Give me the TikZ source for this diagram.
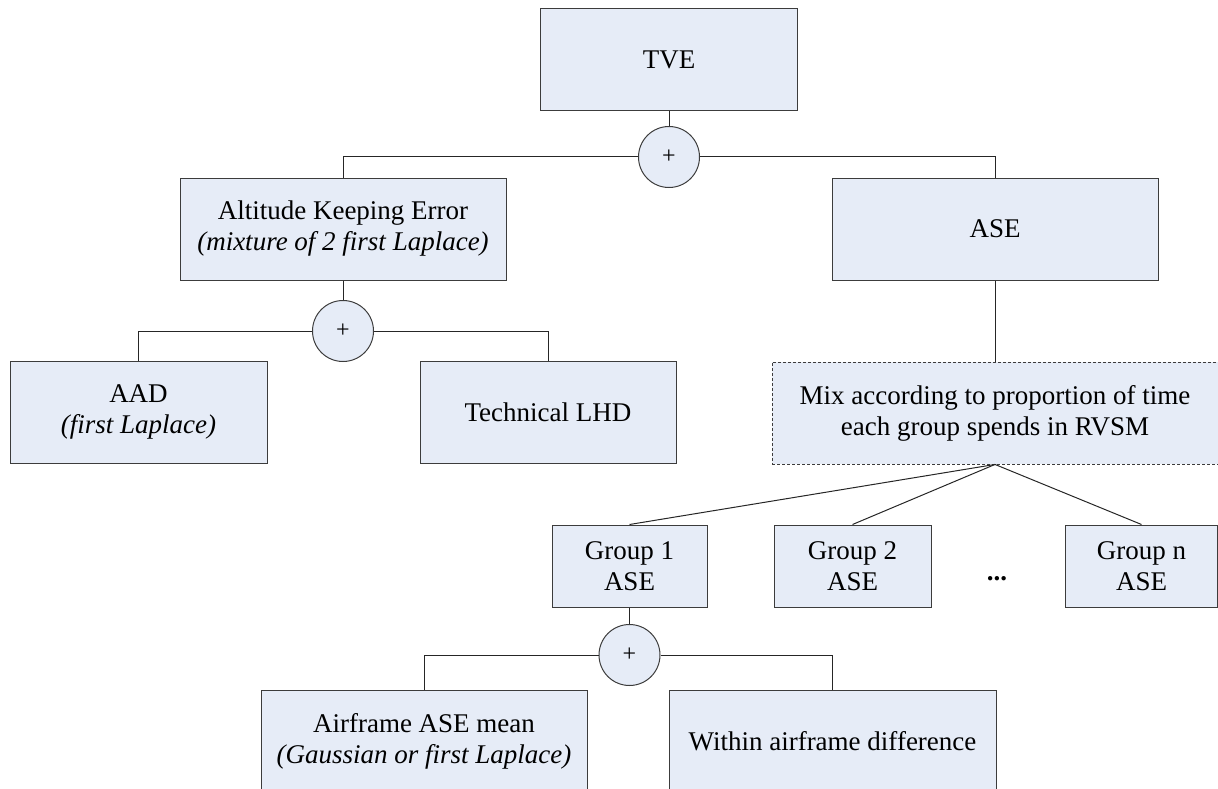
\documentclass[tikz,border=0pt]{standalone}
\usepackage{fontspec}
\setmainfont{Liberation Serif}
\definecolor{boxfill}{RGB}{230,236,247}
\definecolor{boxline}{RGB}{60,60,60}
\begin{document}
\begin{tikzpicture}[x=1pt,y=-1pt,
  every node/.style={font=\fontsize{27}{31}\selectfont, align=center, inner sep=0pt},
  box/.style={rectangle, draw=boxline, fill=boxfill, line width=1pt, minimum height=102pt},
  smallbox/.style={rectangle, draw=boxline, fill=boxfill, line width=1pt, minimum height=82pt},
  mixbox/.style={rectangle, draw=boxline, fill=boxfill, line width=0.9pt, dash pattern=on 3pt off 2pt, minimum height=102pt},
  plus/.style={circle, draw=boxline, fill=boxfill, line width=1pt, minimum size=61pt, font=\fontsize{24}{28}\selectfont},
  conn/.style={draw=black!85, line width=1pt}]
\useasboundingbox (0,0) rectangle (1218,789);
\clip (0,0) rectangle (1218,789);

\node[box, minimum width=257pt] (tve) at (669,60) {TVE};
\node[plus] (c1) at (669,157) {+};
\node[box, minimum width=326pt] (ake) at (343,229) {Altitude Keeping Error\\\textit{(mixture of 2 first Laplace)}};
\node[box, minimum width=326pt] (ase) at (995,229) {ASE};
\node[plus] (c2) at (343,331) {+};
\node[box, minimum width=257pt] (aad) at (138.5,412) {AAD\\\textit{(first Laplace)}};
\node[box, minimum width=256pt] (lhd) at (548,412) {Technical LHD};
\node[mixbox, minimum width=446pt] (mix) at (995,413) {Mix according to proportion of time\\each group spends in RVSM};
\node[smallbox, minimum width=155pt] (g1) at (629.5,566) {Group 1\\ASE};
\node[smallbox, minimum width=157pt] (g2) at (852.5,566) {Group 2\\ASE};
\node[smallbox, minimum width=152pt] (gn) at (1141.5,566) {Group n\\ASE};
\node[anchor=base] (dots) at (997,580) {\textbf{...}};
\node[plus] (c3) at (629.5,655) {+};
\node[box, minimum width=326pt] (af) at (424,741) {Airframe ASE mean\\\textit{(Gaussian or first Laplace)}};
\node[box, minimum width=327pt] (wd) at (832.5,741) {Within airframe difference};

\draw[conn] (tve.south) -- (c1.north);
\draw[conn] (c1.west) -| (ake.north);
\draw[conn] (c1.east) -| (ase.north);
\draw[conn] (ake.south) -- (c2.north);
\draw[conn] (c2.west) -| (aad.north);
\draw[conn] (c2.east) -| (lhd.north);
\draw[conn] (ase.south) -- (mix.north);
\draw[conn] (mix.south) -- (g1.north);
\draw[conn] (mix.south) -- (g2.north);
\draw[conn] (mix.south) -- (gn.north);
\draw[conn] (g1.south) -- (c3.north);
\draw[conn] (c3.west) -| (af.north);
\draw[conn] (c3.east) -| (wd.north);
\end{tikzpicture}
\end{document}
